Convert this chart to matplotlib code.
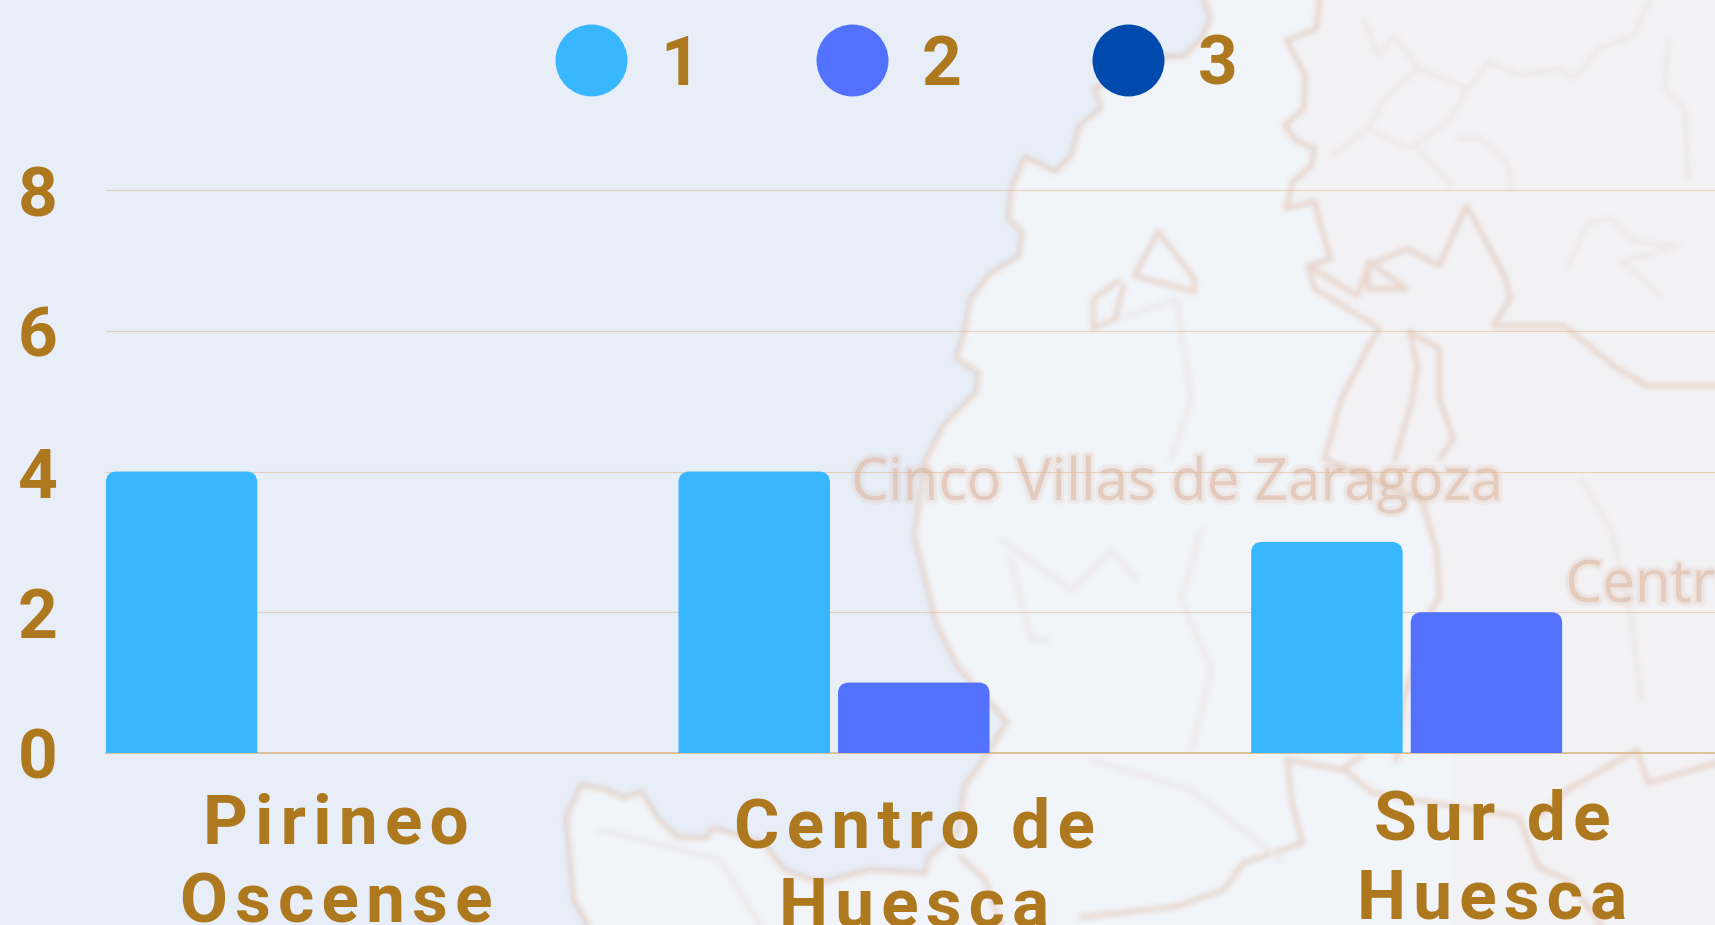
import matplotlib
matplotlib.use('Agg')
import numpy as np
import matplotlib.pyplot as plt
import matplotlib.patheffects as pe
from matplotlib.backends.backend_agg import FigureCanvasAgg
from matplotlib.figure import Figure
from matplotlib.lines import Line2D
from matplotlib.patches import FancyBboxPatch, Polygon

W, H = 1715, 925
FIGSIZE = ((W + 0.5) / 100, (H + 0.5) / 100)

# chart data
categories = ['Pirineo\nOscense', 'Centro de\nHuesca', 'Sur de\nHuesca']
series_names = ['1', '2', '3']
series_1 = [4, 4, 3]
series_2 = [0, 1, 2]
series_3 = [0, 0, 0]
y_ticks = [0, 2, 4, 6, 8]

colors = ['#38B6FF', '#5271FF', '#004AAD']
TEXT = '#AE781F'

# faded map behind the chart, traced in image pixels
coast = [(1203, 0), (1209, 20), (1201, 40), (1182, 58), (1165, 58), (1094, 90), (1100, 110), (1078, 127),
         (1070, 157), (1054, 173), (1024, 158), (1010, 190), (1007, 220), (1021, 233), (1018, 257), (989, 275),
         (969, 300), (964, 330), (955, 360), (977, 373), (975, 393), (942, 427), (925, 460), (913, 536),
         (935, 623), (957, 667), (1006, 722), (984, 757), (963, 787), (957, 833), (927, 857), (924, 873),
         (870, 870), (841, 877), (820, 883), (784, 870), (763, 843), (713, 828), (706, 838), (677, 837),
         (659, 820), (641, 792), (624, 798), (606, 790), (581, 785), (566, 817), (574, 900), (588, 925)]
east_border = [(1318, 0), (1315, 30), (1285, 42), (1304, 77), (1302, 110), (1283, 127), (1296, 143), (1313, 150),
               (1310, 167), (1291, 183), (1285, 210), (1313, 203), (1323, 240), (1329, 260), (1307, 267),
               (1313, 290), (1351, 313), (1378, 330), (1367, 347), (1340, 400), (1323, 460), (1420, 500),
               (1435, 550), (1438, 597), (1430, 610), (1402, 700), (1395, 760)]
strong_lines = [
    [(1157, 233), (1133, 277), (1193, 293), (1193, 280), (1157, 233)],
    [(1116, 283), (1092, 300), (1092, 330), (1114, 320), (1122, 287)],
    [(1408, 333), (1416, 367), (1411, 400), (1394, 460)],
    [(1408, 333), (1438, 350), (1438, 400), (1452, 440), (1438, 460)],
    [(1307, 267), (1356, 297), (1367, 267), (1405, 250), (1438, 267), (1465, 207), (1503, 277), (1509, 300),
     (1492, 327), (1563, 327), (1612, 367), (1645, 387), (1715, 387)],
    [(1367, 263), (1405, 290), (1367, 290), (1367, 263)],
    [(1286, 760), (1290, 800), (1301, 843), (1242, 863), (1222, 890), (1173, 907), (1080, 917)],
    [(1286, 760), (1343, 770), (1371, 793), (1517, 817), (1537, 867), (1566, 880), (1600, 925)],
    [(1359, 757), (1339, 770)],
    [(1635, 750), (1566, 790), (1540, 815)],
    [(1635, 750), (1647, 783), (1715, 763)],
    [(959, 857), (984, 880), (1000, 925)],
]
faint_lines = [
    [(1363, 23), (1377, 57), (1393, 37), (1417, 70), (1467, 90), (1487, 63), (1520, 77), (1557, 70), (1573, 80),
     (1597, 50), (1633, 37), (1647, 3)],
    [(1417, 70), (1383, 100), (1367, 130), (1407, 150), (1447, 123), (1467, 90)],
    [(1367, 130), (1330, 157)],
    [(1417, 150), (1450, 187)],
    [(1457, 140), (1480, 140), (1507, 167), (1510, 190)],
    [(1667, 43), (1663, 90), (1683, 110), (1687, 180)],
    [(1567, 267), (1587, 223), (1610, 220), (1633, 243), (1677, 247), (1620, 263), (1660, 297)],
    [(1120, 320), (1175, 300), (1190, 400), (1170, 460)],
    [(1000, 540), (1070, 590), (1110, 550), (1135, 580)],
    [(1010, 560), (1030, 640), (1045, 640)],
    [(1200, 530), (1180, 600), (1210, 670), (1190, 750)],
    [(1580, 480), (1610, 530), (1630, 620), (1640, 700)],
    [(1090, 760), (1190, 790), (1280, 860)],
    [(600, 830), (720, 860), (760, 925)],
]


def box_blur(a, r, axis):
    c = np.cumsum(np.pad(a, [(r + 1, r) if i == axis else (0, 0) for i in range(2)], mode='edge'), axis=axis)
    if axis == 0:
        return (c[2 * r + 1:, :] - c[:-2 * r - 1, :]) / (2 * r + 1)
    return (c[:, 2 * r + 1:] - c[:, :-2 * r - 1]) / (2 * r + 1)


def line_layer():
    # draw the map lines grey on white offscreen, blur them, return them as a colour with soft alpha
    fig = Figure(figsize=FIGSIZE, dpi=100)
    canvas = FigureCanvasAgg(fig)
    ax = fig.add_axes([0, 0, 1, 1])
    ax.set_xlim(0, W)
    ax.set_ylim(H, 0)
    ax.axis('off')
    for line in [coast, east_border] + strong_lines:
        xs, ys = zip(*line)
        ax.plot(xs, ys, color='0.0', lw=5 * 0.72, solid_joinstyle='round')
    for line in faint_lines:
        xs, ys = zip(*line)
        ax.plot(xs, ys, color='0.65', lw=5 * 0.72, solid_joinstyle='round')
    canvas.draw()
    mask = 1 - np.asarray(canvas.buffer_rgba())[:, :, 0] / 255.0
    for _ in range(3):
        mask = box_blur(box_blur(mask, 2, 0), 2, 1)
    rgba = np.zeros(mask.shape + (4,))
    rgba[:, :, :3] = matplotlib.colors.to_rgb('#DDAE92')
    rgba[:, :, 3] = mask * 0.42
    return rgba


def draw_map(fig):
    bg = fig.add_axes([0, 0, 1, 1], zorder=0)
    bg.add_patch(Polygon([(0, 0), (W, 0), (W, H), (0, H)], color='#F2F2F5', lw=0))
    bg.add_patch(Polygon(coast + [(1450, 925), (1450, 610)] + east_border[::-1], color='#F1F4F9', lw=0))
    bg.add_patch(Polygon(coast + [(0, 925), (0, 0)], color='#E7EEF8', lw=0))
    bg.imshow(line_layer(), extent=(0, W, H, 0), aspect='auto', interpolation='nearest', zorder=3)
    bg.set_xlim(0, W)
    bg.set_ylim(H, 0)
    bg.axis('off')

    blur = [pe.Stroke(linewidth=7, foreground='#DDAE92', alpha=0.08),
            pe.Stroke(linewidth=4, foreground='#DDAE92', alpha=0.12), pe.Normal()]
    for s, x, y in [('Cinco Villas de Zaragoza', 851, 500), ('Centro', 1565, 602)]:
        bg.text(x, y, s, fontsize=42, family='Open Sans', color='#DDAE92', alpha=0.32, ha='left', va='baseline',
                path_effects=blur, zorder=4)


def rounded_bar(ax, x, value, width, color, radius, aspect):
    box = FancyBboxPatch((x - width / 2, -1), width, value + 1,
                         boxstyle='round,pad=0,rounding_size={}'.format(radius),
                         mutation_aspect=aspect, facecolor=color, edgecolor='none', zorder=2)
    ax.add_patch(box)


def spaced(s):
    return '\n'.join('\u200a'.join(line) for line in s.split('\n'))


def main():
    plt.rcParams['font.family'] = ['Roboto', 'DejaVu Sans']
    fig = plt.figure(figsize=FIGSIZE, dpi=100)
    draw_map(fig)

    x_unit, y_unit = 572.5, 70.3
    ax = fig.add_axes([106 / W, 1 - 753 / H, (W - 106) / W, 8.2 * y_unit / H], zorder=1)
    ax.patch.set_alpha(0)
    ax.set_xlim(-235 / x_unit, (W - 341) / x_unit)
    ax.set_ylim(0, 8.2)

    width = 151.4 / x_unit
    step = 159.5 / x_unit
    aspect = x_unit / y_unit
    for j, values in enumerate([series_1, series_2, series_3]):
        for i, value in enumerate(values):
            if value > 0:
                rounded_bar(ax, i + (j - 1) * step, value, width, colors[j], 11 / x_unit, aspect)

    for s in ax.spines.values():
        s.set_visible(False)
    ax.set_xticks([])
    ax.set_yticks(y_ticks)
    ax.set_yticklabels([str(t) for t in y_ticks], fontsize=50, fontweight='bold', color=TEXT)
    ax.tick_params(axis='y', length=0, pad=35)
    ax.set_axisbelow(True)
    ax.grid(axis='y', color='#D9B98A', alpha=0.55, lw=0.8)
    ax.axhline(0, color='#D9B98A', lw=1.2, zorder=1, clip_on=False)

    # category labels sit a little off the group centres
    label_pos = [(336, 922), (914, 926), (1492, 918)]
    for name, (x, y) in zip(categories, label_pos):
        fig.text(x / W, 1 - y / H, spaced(name), fontsize=50, fontweight='bold', color=TEXT,
                 ha='center', va='baseline', multialignment='center', linespacing=1.27, zorder=3)

    # legend entries are not evenly spaced, so each one gets its own anchor
    legend_x = [591, 852, 1128]
    for name, c, x in zip(series_names, colors, legend_x):
        handle = Line2D([], [], ls='', marker='o', ms=51.8, mfc=c, mec='none')
        fig.legend([handle], [name], loc='center left', bbox_to_anchor=((x - 35) / W, 1 - 66 / H), frameon=False,
                   prop={'size': 50, 'weight': 'bold'}, labelcolor=TEXT, handlelength=1, handletextpad=0.5,
                   borderpad=0, borderaxespad=0)

    fig.savefig('out.png', dpi=100)


if __name__ == "__main__":
    main()
